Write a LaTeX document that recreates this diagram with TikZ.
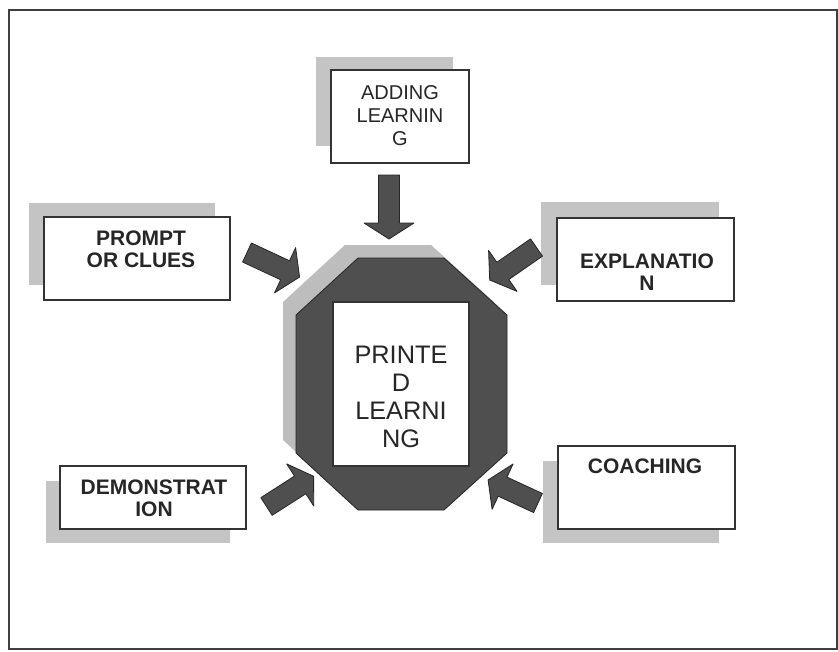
\documentclass[tikz,border=0pt]{standalone}
\usepackage{fontspec}
\setmainfont{Liberation Sans}
\definecolor{darkfill}{HTML}{4F4F4F}
\definecolor{shadowgray}{HTML}{C4C4C4}
\definecolor{octshadow}{HTML}{BDBDBD}
\begin{document}
\begin{tikzpicture}[x=0.75pt,y=-0.75pt,
  boxline/.style={draw=black!80, line width=1.1pt, fill=white},
  shadowfill/.style={fill=shadowgray},
  bold label/.style={font=\bfseries\fontsize{15.75pt}{16.5pt}\selectfont, align=center, inner sep=0pt, text=black!85},
  plain label/.style={font=\fontsize{15pt}{17.25pt}\selectfont, align=center, inner sep=0pt, text=black!85},
  center label/.style={font=\fontsize{19pt}{21pt}\selectfont, align=center, inner sep=0pt, text=black!85},
  pics/blockarrow/.style={code={
    \filldraw[fill=darkfill, draw=black!85, line width=0.6pt, line join=round]
      (0,-10.5) -- (#1,-10.5) -- (#1,-25) -- ({#1+16},0) -- (#1,25) -- (#1,10.5) -- (0,10.5) -- cycle;
  }}
]
\useasboundingbox (0,0) rectangle (838,651);
\fill[white] (0,0) rectangle (838,651);
% frame
\draw[line width=1.5pt, draw=black!75] (9,10) rectangle (837,649);

% shadows of boxes
\fill[shadowfill] (316,57) rectangle (453,146);
\fill[shadowfill] (29,203) rectangle (215,285);
\fill[shadowfill] (541,202) rectangle (719,285);
\fill[shadowfill] (46,481) rectangle (230,543);
\fill[shadowfill] (543,461) rectangle (719,543);

% boxes
\draw[boxline] (331,70) rectangle (469,163);
\draw[boxline] (44,217) rectangle (230,300);
\draw[boxline] (557,218) rectangle (734,301);
\draw[boxline] (60,466) rectangle (246,529);
\draw[boxline] (558,446) rectangle (735,529);

% octagon shadow and octagon
\fill[octshadow] (345,245) -- (431,245) -- (494,302) -- (494,440) -- (431,497) -- (345,497) -- (283,440) -- (283,302) -- cycle;
\filldraw[fill=darkfill, draw=black!85, line width=0.6pt]
  (358,258) -- (444,258) -- (507,315) -- (507,453) -- (444,510) -- (358,510) -- (296,453) -- (296,315) -- cycle;
\draw[boxline, line width=0.8pt] (333,302) rectangle (469,466);

% block arrows
\pic[rotate=-90] at (389,175) {blockarrow=48};
\pic[rotate=-25] at (247,252.5) {blockarrow=42};
\pic[rotate=-145.2] at (536.5,247.5) {blockarrow=41};
\pic[rotate=32.7] at (266.5,506.5) {blockarrow=40};
\pic[rotate=155.2] at (538,503) {blockarrow=39};

% labels
\node[plain label] (adding) at (400,115.75) {ADDING\\LEARNIN\\G};
\node[bold label] (prompt) at (141,249.5) {PROMPT\\OR CLUES};
\node[bold label] (explanation) at (647,272.5) {EXPLANATIO\\N};
\node[bold label] (demo) at (154,498.25) {DEMONSTRAT\\ION};
\node[bold label] (coaching) at (645,466.5) {COACHING};
\node[center label] (printed) at (401,397.25) {PRINTE\\D\\LEARNI\\NG};
\end{tikzpicture}
\end{document}
